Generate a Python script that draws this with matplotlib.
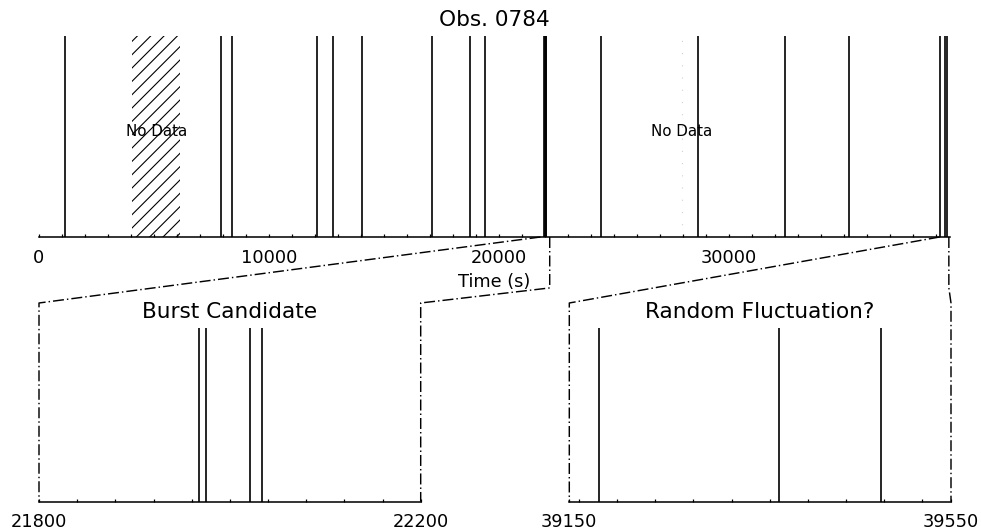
import matplotlib
matplotlib.use('Agg')
import matplotlib.pyplot as plt
import matplotlib.transforms as mtransforms
from matplotlib.lines import Line2D
from matplotlib.ticker import MultipleLocator, FixedLocator

matplotlib.rcParams['font.family'] = 'DejaVu Sans'
matplotlib.rcParams['hatch.linewidth'] = 1.0

# photon arrival times (s)
events_main = [1130, 7898, 8403, 12084, 12767, 14028, 17096, 18748, 19387,
               24429, 28646, 32415, 35223]
burst_events = [21968, 21975, 22021, 22034]
fluct_events = [39181, 39370, 39477]

# gaps with no data (s)
gap_starts = [4056, 27940]
gap_ends = [6129, 27940]

obs_title = 'Obs. 0784'
top_xlim = (0, 39600)
top_ticks = [0, 10000, 20000, 30000]
burst_range = (21800, 22200)
fluct_range = (39150, 39550)
zoom_titles = ['Burst Candidate', 'Random Fluctuation?']

DPI = 80
fig = plt.figure(figsize=(981 / DPI, 531 / DPI), dpi=DPI)


def px_axes(x0, x1, ytop, ybot):
    W, H = 981.0, 531.0
    return fig.add_axes([x0 / W, 1 - ybot / H, (x1 - x0) / W, (ybot - ytop) / H])


def style_axis(ax):
    for s in ['top', 'left', 'right']:
        ax.spines[s].set_visible(False)
    ax.spines['bottom'].set_linewidth(1.4)
    ax.set_yticks([])
    ax.set_ylim(0, 1)
    ax.tick_params(axis='x', which='both', direction='in', length=2.8,
                   width=1.1, pad=10.5, labelsize=16)


# top panel
ax = px_axes(39, 950, 35.7, 237)
style_axis(ax)
all_events = events_main + burst_events + fluct_events
ax.vlines(all_events, 0, 1, color='black', linewidth=1.5)
for g0, g1 in zip(gap_starts, gap_ends):
    if g1 > g0:
        ax.axvspan(g0, g1, facecolor='none', edgecolor='black', hatch='//',
                   linewidth=0)
    else:
        ax.axvline(g0, color='0.82', linewidth=1.0, linestyle=(0, (1, 10)))
    ax.text((g0 + g1) / 2, 0.523, 'No Data', ha='center', va='center',
            fontsize=13.6)
ax.set_xlim(*top_xlim)
ax.xaxis.set_major_locator(FixedLocator(top_ticks))
ax.xaxis.set_minor_locator(MultipleLocator(1000))
ax.set_title(obs_title, fontsize=19.5, pad=8.7)
ax.set_xlabel('Time (s)', fontsize=16, labelpad=5.5)

# zoomed panels
zoom_axes = []
for xr, ev, title, x0 in zip([burst_range, fluct_range],
                             [burst_events, fluct_events],
                             zoom_titles, [39, 569.3]):
    zax = px_axes(x0, x0 + 381.7, 327.7, 501.7)
    style_axis(zax)
    zax.vlines(ev, 0, 1, color='black', linewidth=1.5)
    zax.set_xlim(*xr)
    zax.xaxis.set_major_locator(FixedLocator(list(xr)))
    zax.xaxis.set_minor_locator(MultipleLocator(40))
    zax.set_title(title, fontsize=19.5, pad=9)
    zoom_axes.append(zax)

# dash-dot connectors from top axis to zoom panels
to_fig = fig.transFigure.inverted()
top_tr = mtransforms.blended_transform_factory(ax.transData, ax.transAxes)
box_top = 1.142
y_mid = -0.253
dd = (0, (7.6, 2.1, 1, 2.1))
for zax, xr in zip(zoom_axes, [burst_range, fluct_range]):
    bot_tr = mtransforms.blended_transform_factory(zax.transData, zax.transAxes)
    x1, x2 = xr
    left = [top_tr.transform((x1, 0)), bot_tr.transform((x1, box_top)),
            bot_tr.transform((x1, 0))]
    right = [top_tr.transform((x2, 0)), top_tr.transform((x2, y_mid)),
             bot_tr.transform((x2, box_top)), bot_tr.transform((x2, 0))]
    for pts in (left, right):
        pts = to_fig.transform(pts)
        fig.add_artist(Line2D(pts[:, 0], pts[:, 1], transform=fig.transFigure,
                              color='black', linewidth=1.3, linestyle=dd))

fig.savefig('out.png', dpi=DPI)
